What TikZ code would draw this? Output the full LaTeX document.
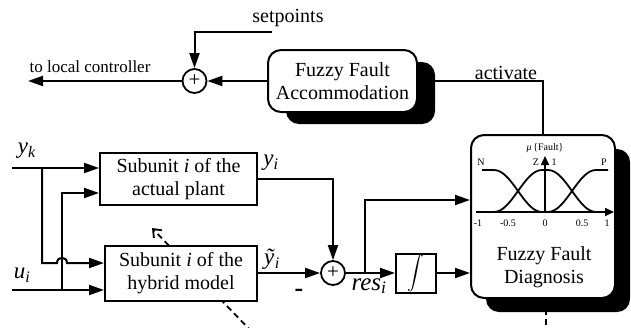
\documentclass[tikz,border=0pt]{standalone}
\usepackage{amsmath}
\usepackage{graphicx}
\usepackage{fontspec}
\setmainfont{Liberation Serif}
\usetikzlibrary{arrows.meta}
\begin{document}
\begin{tikzpicture}[x=1pt,y=-1pt,
  line width=2pt,
  arr/.style={-{Triangle[length=15pt,width=10pt]}},
  blk/.style={draw,fill=white,font=\fontsize{20}{23}\selectfont,align=center,inner sep=0pt},
  rblk/.style={blk,rounded corners=13pt},
  shadowbox/.style={fill=black,rounded corners=13pt},
  sumc/.style={draw,fill=white,circle,inner sep=0pt,minimum size=24pt,line width=1.8pt,font=\fontsize{21}{21}\selectfont},
  lbl/.style={font=\fontsize{20}{23}\selectfont,inner sep=0pt,align=center},
  var/.style={font=\fontsize{23}{23}\selectfont,inner sep=0pt},
  small/.style={font=\fontsize{10}{10}\selectfont,inner sep=0pt},
  axis/.style={line width=1.6pt,-{Triangle[length=9pt,width=8pt]}},
  curve/.style={line width=1.8pt},
  dashline/.style={dash pattern=on 6pt off 4pt,line width=1.8pt}
]
\useasboundingbox (0,0) rectangle (631,327);

% shadows
\fill[shadowbox] (286,62) rectangle (435,124);
\fill[shadowbox] (486,149) rectangle (630,312);

% dashed adaptation arrow (behind model box)
\coordinate (dA) at (252,332);
\coordinate (dB) at (152,228);
\draw[dashline,-{Straight Barb[length=7pt,width=11pt]}] (dA) -- (dB);

% blocks
\node[rblk,minimum width=149pt,minimum height=62pt] (acc) at (342.5,81) {Fuzzy Fault\\Accommodation};
\node[rblk,minimum width=144pt,minimum height=163pt] (diag) at (543,216.5) {};
\node[lbl] (diagtxt) at (544,267) {Fuzzy Fault\\Diagnosis};
\node[blk,minimum width=157pt,minimum height=52pt] (plant) at (178.5,179) {Subunit \textit{i} of the\\actual plant};
\node[blk,minimum width=152pt,minimum height=55pt] (model) at (181,273) {Subunit \textit{i} of the\\hybrid model};
\node[blk,minimum width=40pt,minimum height=39pt,font=\fontsize{13}{13}\selectfont] (integ) at (416,273) {\scalebox{1.4}{$\displaystyle\int$}};
\node[sumc] (s1) at (194.5,81) {+};
\node[sumc] (s2) at (333,273) {+};

% dashed line below diagnosis
\coordinate (dC) at (546,327);
\draw[dashline] (diag.south -| dC) -- (dC);

% top part
\coordinate (sp) at (272,32);
\draw[arr] (sp) -| (s1.north);
\node[lbl] (setp) at (288,18) {setpoints};
\draw[arr] (acc.west) -- (s1.east);
\coordinate (tlc) at (28,81);
\draw[arr] (s1.west) -- (tlc);
\node[lbl,font=\fontsize{17}{17}\selectfont] (tlctxt) at (90,67) {to local controller};
\draw[arr] (diag.north) |- (acc.east);
\node[lbl] (act) at (506,73) {activate};

% inputs
\coordinate (yk) at (12,168);
\coordinate (ui) at (12,290);
\coordinate (m1) at (0,263);
\coordinate (p2) at (0,193);
\draw[arr] (yk) -- (yk -| plant.west);
\draw[arr] (42,168) -- (42,263) -- (57,263) .. controls (57,256) and (67,256) .. (67,263) -- (model.west |- m1);
\draw[arr] (ui) -- (ui -| model.west);
\draw[arr] (62,290) -- (62,193) -- (plant.west |- p2);
\node[var] (yklbl) at (27,151) {\textit{y}\textsubscript{\textit{k}}};
\node[var] (uilbl) at (22,275) {\textit{u}\textsubscript{\textit{i}}};

% outputs and residual
\draw[arr] (plant.east) -| (s2.north);
\draw[arr] (model.east) -- (s2.west);
\node[var] (yilbl) at (271,163) {\textit{y}\textsubscript{\textit{i}}};
\node[var] (ytlbl) at (272,259) {\textit{\~y}\textsubscript{\textit{i}}};
\node[inner sep=0pt,font=\fontsize{26}{26}\selectfont\bfseries] (minus) at (299,293) {-};
\draw[arr] (s2.east) -- (integ.west);
\coordinate (br) at (365,273);
\coordinate (d1) at (0,200);
\draw[arr] (br) |- (diag.west |- d1);
\draw[arr] (integ.east) -- (integ.east -| diag.west);
\node[var,font=\fontsize{25}{25}\selectfont] (res) at (369,286) {\textit{res}\textsubscript{\textit{i}}};

% membership function plot
\coordinate (ax0) at (476,212);
\coordinate (ax1) at (614,212);
\coordinate (ay0) at (545,212);
\coordinate (ay1) at (545,156);
\draw[axis] (ax0) -- (ax1);
\draw[axis] (ay0) -- (ay1);
\draw[curve] (482,170) -- (494,170) .. controls (512,170) and (524,212) .. (542,212);
\draw[curve] (494,212) .. controls (512,212) and (524,170) .. (542,170) -- (548,170) .. controls (566,170) and (578,212) .. (596,212);
\draw[curve] (548,212) .. controls (566,212) and (578,170) .. (596,170) -- (608,170);
\node[small] (mu) at (545,148) {\textit{μ}\,\{Fault\}};
\node[small] (nl) at (481,162) {N};
\node[small] (zl) at (536,162) {Z};
\node[small] (one) at (554,162) {1};
\node[small] (pl) at (604,162) {P};
\node[small] (t1) at (478,223) {-1};
\node[small] (t2) at (508,223) {-0.5};
\node[small] (t3) at (545,223) {0};
\node[small] (t4) at (582,223) {0.5};
\node[small] (t5) at (607,223) {1};
\end{tikzpicture}
\end{document}
